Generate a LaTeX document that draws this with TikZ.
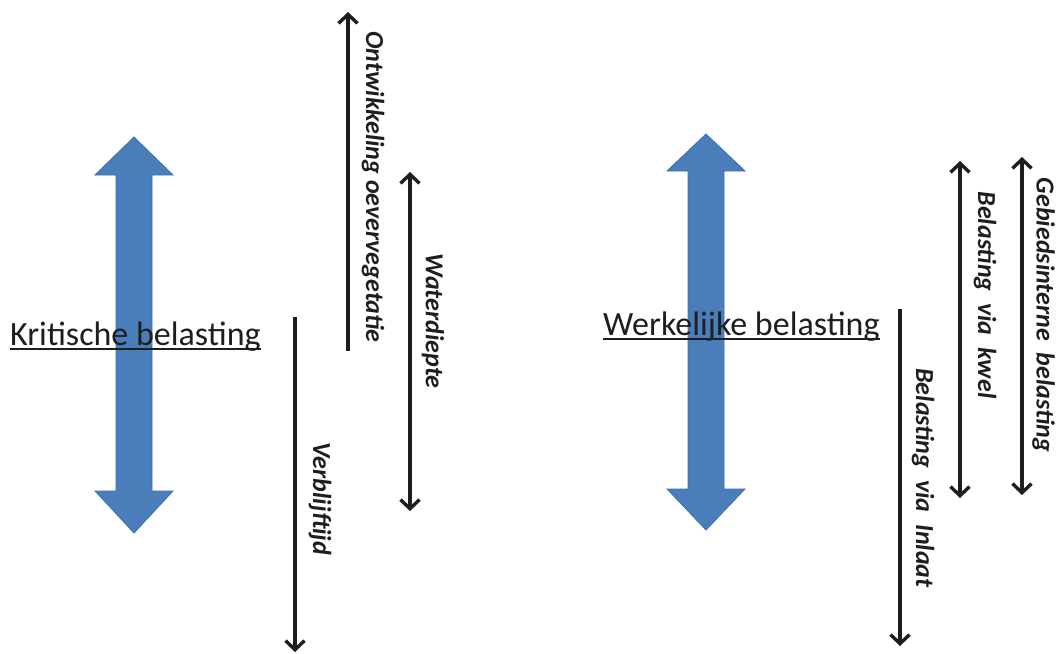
\documentclass[tikz,border=0pt]{standalone}
\usepackage{fontspec}
\setmainfont{Carlito}
\usetikzlibrary{arrows.meta}
\definecolor{bigblue}{HTML}{4A7EBB}
\definecolor{bigedge}{HTML}{3F6FA6}
\definecolor{ink}{HTML}{1E1E1E}
\tikzset{
  barb/.tip={Straight Barb[length=9pt,width=19pt,line width=3.4pt]},
  bigarrow/.style={fill=bigblue, draw=bigedge, line width=0.8pt, line join=miter},
  factor/.style={draw=ink, line width=3.6pt},
  uparr/.style={factor, -barb},
  bothway/.style={factor, barb-barb},
  factorlabel/.style={rotate=-90, inner sep=0pt, text=ink, font=\fontsize{26}{30}\selectfont\bfseries\itshape},
  loadlabel/.style={inner sep=0pt, text=ink, anchor=base west, font=\fontsize{34}{40}\selectfont}
}
\newcommand{\vbar}[5]{% centre x, top tip, top base, bottom base, bottom tip
  \draw[bigarrow] (#1,#2) -- (#1+39,#3) -- (#1+18,#3) -- (#1+18,#4) -- (#1+39,#4)
    -- (#1,#5) -- (#1-39,#4) -- (#1-18,#4) -- (#1-18,#3) -- (#1-39,#3) -- cycle;}
\begin{document}
\begin{tikzpicture}[x=1pt, y=-1pt]
\useasboundingbox (0,0) rectangle (1056,653);

% big double-headed load arrows
\vbar{134}{137}{175}{491}{533}
\vbar{706}{134}{171}{489}{530}

% load labels, underlined
\node[loadlabel] (krit) at (10,345) {Kritische belasting};
\draw[ink, line width=1.4pt] ([yshift=-4pt]krit.base west) -- ([yshift=-4pt]krit.base east);
\node[loadlabel] (werk) at (603,335) {Werkelijke belasting};
\draw[ink, line width=1.4pt] ([yshift=-4pt]werk.base west) -- ([yshift=-4pt]werk.base east);

% factors of the critical load
\coordinate (ont1) at (348,351);  \coordinate (ont2) at (348,12);
\coordinate (wat1) at (410,172);  \coordinate (wat2) at (410,511);
\coordinate (ver1) at (295,317);  \coordinate (ver2) at (295,652);
\draw[uparr] (ont1) -- (ont2);
\draw[bothway] (wat1) -- (wat2);
\draw[uparr] (ver1) -- (ver2);
\node[factorlabel] (ontl) at (373,187) {Ontwikkeling\ oevervegetatie};
\node[factorlabel] (watl) at (433,321) {Waterdiepte};
\node[factorlabel] (verl) at (320,499) {Verblijftijd};

% factors of the actual load
\coordinate (inl1) at (900,309);  \coordinate (inl2) at (900,646);
\coordinate (kwe1) at (960,161);  \coordinate (kwe2) at (960,498);
\coordinate (geb1) at (1022,157); \coordinate (geb2) at (1022,495);
\draw[uparr] (inl1) -- (inl2);
\draw[bothway] (kwe1) -- (kwe2);
\draw[bothway] (geb1) -- (geb2);
\node[factorlabel] (inll) at (923,478) {Belasting\ \ via\ \ Inlaat};
\node[factorlabel] (kwel) at (985,295) {Belasting\ \ via\ \ kwel};
\node[factorlabel, anchor=north] (gebl) at (1055,315) {Gebiedsinterne\ \ belasting};
\end{tikzpicture}
\end{document}
